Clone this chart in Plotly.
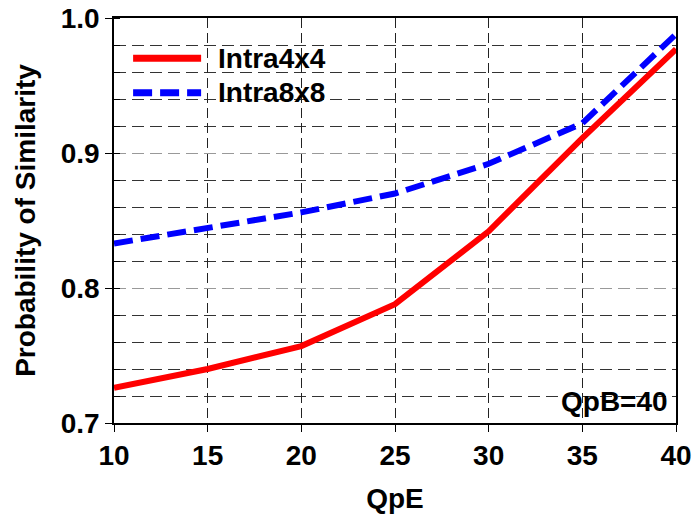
import plotly.graph_objects as go

qpe = [10, 15, 20, 25, 30, 35, 40]
intra4x4 = [0.726, 0.740, 0.757, 0.788, 0.842, 0.911, 0.977]
intra8x8 = [0.833, 0.844, 0.856, 0.870, 0.892, 0.922, 0.988]
series_names = ["Intra4x4", "Intra8x8"]
series_colors = ["#ff0000", "#0000ff"]
series_dash = ["solid", "19px,8px"]

x_ticks = [10, 15, 20, 25, 30, 35, 40]
y_ticks = [0.7, 0.8, 0.9, 1.0]
y_labels = ["0.7", "0.8", "0.9", "1.0"]

FONT = "Liberation Sans, Arial, sans-serif"
FS = 28

fig = go.Figure()
for ys, nm, col, dsh in zip([intra4x4, intra8x8], series_names, series_colors, series_dash):
    fig.add_trace(go.Scatter(x=qpe, y=ys, mode="lines", name=nm, showlegend=False,
                             line=dict(color=col, width=6, dash=dsh)))

fig.update_layout(
    width=693, height=527,
    margin=dict(l=114, r=17, t=18, b=104),
    paper_bgcolor="white", plot_bgcolor="white",
    font=dict(family=FONT, color="black"),
    xaxis=dict(range=[10, 40], tickvals=x_ticks, ticktext=[f"<b>{v}</b>" for v in x_ticks],
               tickfont=dict(size=FS, family=FONT), showline=True, mirror=True,
               linecolor="black", linewidth=1.5, ticks="outside", ticklen=7, tickcolor="black",
               showgrid=True, gridcolor="#222", griddash="10px,5px", gridwidth=1,
               zeroline=False, automargin=False,
               title=dict(text="<b>QpE</b>", font=dict(size=FS, family=FONT), standoff=18)),
    yaxis=dict(range=[0.7, 1.0], tickvals=y_ticks, ticktext=[f"<b>{v}</b>" for v in y_labels],
               tickfont=dict(size=FS, family=FONT), showline=True, mirror=True,
               linecolor="black", linewidth=1.5, ticks="outside", ticklen=7, tickcolor="black",
               showgrid=True, gridcolor="#999", griddash="12px,6px", gridwidth=1,
               zeroline=False, automargin=False,
               minor=dict(dtick=0.02, showgrid=True, gridcolor="#333", griddash="12px,6px",
                          gridwidth=1, ticks="inside", ticklen=6, tickcolor="black"),
               title=dict(text="<b>Probability of Similarity</b>", font=dict(size=FS, family=FONT),
                          standoff=17)),
)

# custom legend (long line samples as in the reference)
leg_y = [0.9005, 0.8156]
for yy, nm, col, dsh in zip(leg_y, series_names, series_colors, series_dash):
    fig.add_shape(type="line", xref="paper", yref="paper", x0=0.034, x1=0.155, y0=yy, y1=yy,
                  line=dict(color=col, width=7, dash=dsh))
    fig.add_annotation(x=0.182, y=yy, xref="paper", yref="paper", xanchor="left", yanchor="middle",
                       text=f"<b>{nm}</b>", showarrow=False,
                       font=dict(size=FS, family=FONT, color="black"))

fig.add_annotation(x=1, y=0, xref="paper", yref="paper", xanchor="right", yanchor="bottom",
                   xshift=-6, yshift=4,
                   text="<b>QpB=40</b>", showarrow=False,
                   font=dict(size=FS, family=FONT, color="black"))

fig.write_html("out.html")
